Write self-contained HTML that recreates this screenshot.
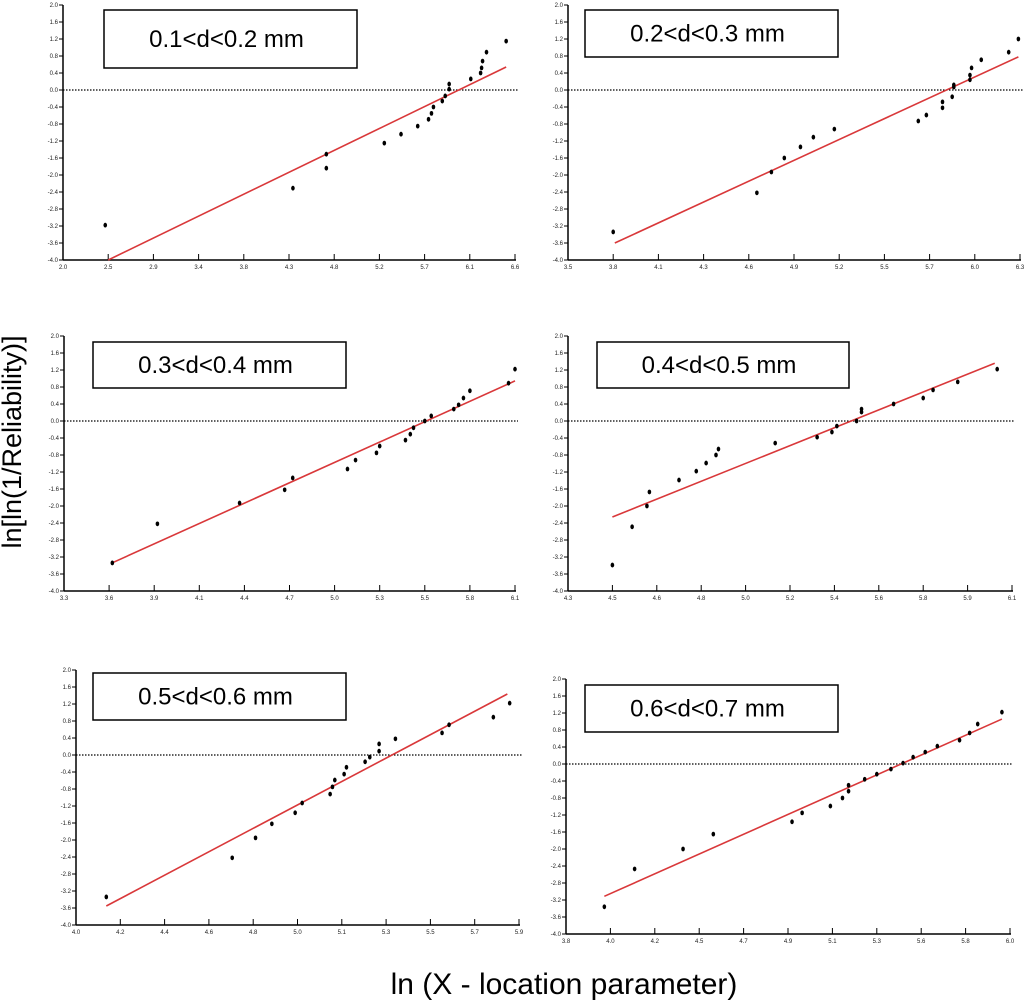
<!DOCTYPE html>
<html><head><meta charset="utf-8"><style>
html,body{margin:0;padding:0;background:#fff;width:1024px;height:1006px;overflow:hidden}
svg{display:block}
</style></head><body>
<svg id="c" width="1024" height="1006" xmlns="http://www.w3.org/2000/svg" font-family="Liberation Sans, sans-serif">
<text x="14" y="442" transform="rotate(-90 14 442)" text-anchor="middle" dominant-baseline="middle" font-size="27" fill="#000">ln[ln(1/Reliability)]</text>
<text x="564" y="994" text-anchor="middle" font-size="30" fill="#000">ln (X - location parameter)</text>
</svg>
<script>
const yTicks = [2.0,1.6,1.2,0.8,0.4,0.0,-0.4,-0.8,-1.2,-1.6,-2.0,-2.4,-2.8,-3.2,-3.6,-4.0];
const labels = ["0.1<d<0.2 mm","0.2<d<0.3 mm","0.3<d<0.4 mm","0.4<d<0.5 mm","0.5<d<0.6 mm","0.6<d<0.7 mm"];
const xTicks1 = ["2.0","2.5","2.9","3.4","3.8","4.3","4.8","5.2","5.7","6.1","6.6"];
const xTicks2 = ["3.5","3.8","4.1","4.3","4.6","4.9","5.2","5.5","5.7","6.0","6.3"];
const xTicks3 = ["3.3","3.6","3.9","4.1","4.4","4.7","5.0","5.3","5.5","5.8","6.1"];
const xTicks4 = ["4.3","4.5","4.6","4.8","5.0","5.2","5.4","5.6","5.8","5.9","6.1"];
const xTicks5 = ["4.0","4.2","4.4","4.6","4.8","5.0","5.1","5.3","5.5","5.7","5.9"];
const xTicks6 = ["3.8","4.0","4.2","4.5","4.7","4.9","5.1","5.3","5.6","5.8","6.0"];
const xs1=[2.43,4.34,4.68,4.68,5.27,5.44,5.61,5.72,5.75,5.77,5.86,5.89,5.93,5.93,6.15,6.25,6.26,6.27,6.31,6.51];
const ys1=[-3.18,-2.31,-1.84,-1.51,-1.25,-1.04,-0.85,-0.69,-0.55,-0.40,-0.26,-0.14,0.02,0.14,0.26,0.40,0.52,0.68,0.89,1.15];
const xs2=[3.78,4.67,4.76,4.84,4.94,5.02,5.15,5.67,5.72,5.82,5.82,5.88,5.89,5.89,5.99,5.99,6.00,6.06,6.23,6.29];
const ys2=[-3.34,-2.42,-1.93,-1.60,-1.34,-1.11,-0.92,-0.73,-0.59,-0.42,-0.28,-0.16,0.07,0.12,0.24,0.35,0.52,0.71,0.89,1.20];
const xs3=[3.60,3.88,4.39,4.67,4.72,5.06,5.11,5.24,5.26,5.42,5.45,5.47,5.54,5.58,5.72,5.75,5.78,5.82,6.06,6.10];
const ys3=[-3.34,-2.42,-1.93,-1.62,-1.34,-1.13,-0.92,-0.75,-0.59,-0.45,-0.31,-0.16,0.0,0.12,0.28,0.38,0.54,0.71,0.89,1.22];
const xs4=[4.48,4.56,4.62,4.63,4.75,4.82,4.86,4.90,4.91,5.14,5.31,5.37,5.39,5.47,5.49,5.49,5.62,5.74,5.78,5.88,6.04];
const ys4=[-3.39,-2.49,-2.00,-1.67,-1.39,-1.18,-0.99,-0.80,-0.66,-0.52,-0.38,-0.26,-0.12,0.0,0.21,0.28,0.40,0.54,0.73,0.92,1.22];
const xs5=[4.13,4.67,4.77,4.84,4.94,4.97,5.09,5.10,5.11,5.15,5.16,5.24,5.26,5.30,5.30,5.37,5.57,5.60,5.79,5.86];
const ys5=[-3.34,-2.42,-1.95,-1.62,-1.36,-1.13,-0.92,-0.75,-0.59,-0.45,-0.29,-0.16,-0.05,0.09,0.26,0.38,0.52,0.71,0.89,1.22];
const xs6=[3.99,4.14,4.38,4.53,4.92,4.97,5.11,5.17,5.20,5.20,5.28,5.34,5.41,5.47,5.52,5.58,5.64,5.75,5.80,5.84,5.96];
const ys6=[-3.36,-2.47,-2.00,-1.65,-1.36,-1.15,-0.99,-0.80,-0.64,-0.50,-0.36,-0.24,-0.12,0.02,0.16,0.28,0.42,0.56,0.73,0.94,1.22];
const slopes=[1.121,1.752,1.712,2.335,2.90,2.117];
const intercepts=[-6.757,-10.24,-9.50,-12.72,-15.53,-11.56];
const fitStart=[2.46,3.79,3.60,4.48,4.13,3.99];
const fitEnd=[6.51,6.29,6.10,6.03,5.85,5.96];

const NS="http://www.w3.org/2000/svg";
const svg=document.getElementById('c');
function mk(t,a,p){const e=document.createElementNS(NS,t);for(const k in a)e.setAttribute(k,a[k]);(p||svg).appendChild(e);return e;}
const panels=[
 {x0:63,x1:515,top:5,bot:260,xt:xTicks1,xs:xs1,ys:ys1,box:[104,10,253,58]},
 {x0:568,x1:1020,top:5,bot:260,xt:xTicks2,xs:xs2,ys:ys2,box:[585,10,253,47]},
 {x0:64,x1:515,top:336,bot:591,xt:xTicks3,xs:xs3,ys:ys3,box:[93,342,253,46]},
 {x0:568,x1:1012,top:336,bot:591,xt:xTicks4,xs:xs4,ys:ys4,box:[597,342,252,46]},
 {x0:76,x1:519,top:670,bot:925,xt:xTicks5,xs:xs5,ys:ys5,box:[93,673,253,47]},
 {x0:566,x1:1010,top:679,bot:934,xt:xTicks6,xs:xs6,ys:ys6,box:[585,685,253,47]}
];
panels.forEach((p,i)=>{
 const g=mk('g',{});
 
 
 const n=p.xt.length-1;
 const xa=parseFloat(p.xt[0]), xb=parseFloat(p.xt[n]);
 const X=v=>p.x0+(v-xa)/(xb-xa)*(p.x1-p.x0);
 const Y=v=>p.top+(2.0-v)/6.0*(p.bot-p.top);
 const ya=mk('line',{x1:p.x0,y1:p.top,x2:p.x0,y2:p.bot,stroke:'#000','stroke-width':1.5},g);
 
 
 const xaL=mk('line',{x1:p.x0,y1:p.bot,x2:p.x1+1,y2:p.bot,stroke:'#000','stroke-width':1.5},g);
 
 
 yTicks.forEach(t=>{
  const y=Y(t);
  mk('line',{x1:p.x0-4,y1:y,x2:p.x0,y2:y,stroke:'#000','stroke-width':1},g);
  const tx=mk('text',{x:p.x0-5,y:y+2,'font-size':6,'text-anchor':'end',fill:'#222'},g);
  tx.textContent=t.toFixed(1);
  
  
 });
 p.xt.forEach((t,k)=>{
  const x=p.x0+k/n*(p.x1-p.x0);
  mk('line',{x1:x,y1:p.bot-6,x2:x,y2:p.bot,stroke:'#000','stroke-width':1},g);
  const tx=mk('text',{x:x,y:p.bot+9,'font-size':6,'text-anchor':'middle',fill:'#222'},g);
  tx.textContent=t;
  
  
 });
 const zl=mk('line',{x1:p.x0,y1:Y(0),x2:p.x1+3,y2:Y(0),stroke:'#000','stroke-width':1.2,'stroke-dasharray':'1.5,1.5'},g);
 
 
 const fl=mk('line',{x1:X(fitStart[i]),y1:Y(slopes[i]*fitStart[i]+intercepts[i]),x2:X(fitEnd[i]),y2:Y(slopes[i]*fitEnd[i]+intercepts[i]),stroke:'#d9383a','stroke-width':1.6},g);
 
 
 p.xs.forEach((v,j)=>{
  const d=mk('ellipse',{cx:X(v),cy:Y(p.ys[j]),rx:1.8,ry:2.4,fill:'#000'},g);
  
  
 });
 const b=p.box;
 const r=mk('rect',{x:b[0],y:b[1],width:b[2],height:b[3],fill:'#fff',stroke:'#000','stroke-width':1.5},g);
 
 
 const lt=mk('text',{x:b[0]+b[2]/2-4,y:b[1]+b[3]/2+8,'font-size':24,'text-anchor':'middle',fill:'#000'},g);
 lt.textContent=labels[i];
 
 
});
</script>
</body></html>
